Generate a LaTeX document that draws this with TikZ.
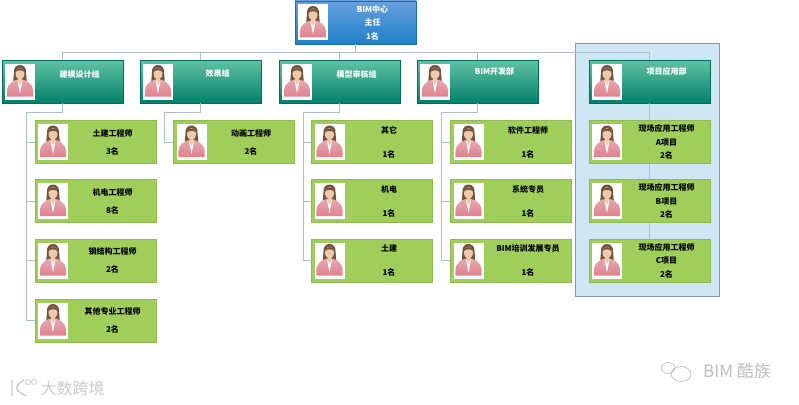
\documentclass[tikz,border=0pt]{standalone}
\usepackage{fontspec}
\setmainfont{Noto Sans CJK SC}
\definecolor{RootTop}{RGB}{104,160,222}
\definecolor{RootBot}{RGB}{30,128,200}
\definecolor{GroupTop}{RGB}{96,194,162}
\definecolor{GroupBot}{RGB}{3,128,108}
\definecolor{CardGreen}{RGB}{159,206,90}
\definecolor{LinkBlue}{RGB}{170,190,208}
\definecolor{PanelBlue}{RGB}{207,230,245}
\definecolor{HairBrown}{RGB}{112,84,62}
\definecolor{SkinTone}{RGB}{240,200,170}
\definecolor{CoatPink}{RGB}{222,130,142}
\definecolor{MarkGray}{RGB}{190,190,190}
\newcommand{\drawportrait}{
    \begin{scope}
        \pgftransformshift{\pgfpoint{-42.5pt}{0pt}}
        \fill[white] (-15,-18) rectangle (15,18);
        \fill[HairBrown] (-6,-9) .. controls (-7,-19) and (7,-19) .. (6,-9) -- (7,3) -- (3,2) -- (-3,2) -- (-7,3) -- cycle;
        \shade[top color=CoatPink!70!white, bottom color=CoatPink] (-13,15) .. controls (-14,5) and (-11,1) .. (-3,-2) -- (3,-2) .. controls (11,1) and (14,5) .. (13,15) -- cycle;
        \fill[white] (-2.5,-1) -- (2.5,-1) -- (0,12) -- cycle;
        \fill[SkinTone] (-2,-5) rectangle (2,-1) (-2,-1) -- (2,-1) -- (0,4) -- cycle;
        \fill[SkinTone] (0,-8) ellipse (4.5 and 6);
        \fill[HairBrown] (-5,-9) .. controls (-4,-15) and (4,-15) .. (5,-9) .. controls (3,-12) and (-3,-12) .. (-5,-9) -- cycle;
    \end{scope}
}
\begin{document}
\begin{tikzpicture}[
    x=1pt, y=-1pt,
    box/.style={rectangle, minimum width=121pt, minimum height=43pt, inner sep=0pt, path picture={\drawportrait}},
    rootbox/.style={box, draw=RootBot!85!black, top color=RootTop, bottom color=RootBot},
    groupbox/.style={box, draw=GroupBot!85!black, top color=GroupTop, bottom color=GroupBot},
    cardbox/.style={box, draw=CardGreen!90!black, fill=CardGreen},
    headtext/.style={xshift=17pt, yshift=7pt, font=\fontsize{8}{10}\selectfont\bfseries, text=white, align=center},
    cardtext/.style={xshift=17pt, font=\fontsize{8}{10}\selectfont\bfseries, align=center},
    link/.style={draw=LinkBlue, line width=0.9pt},
    marktext/.style={font=\fontsize{17}{19}\selectfont, text=MarkGray}
]
    \useasboundingbox (0,0) rectangle (799,404);
    \node[rectangle, draw=LinkBlue!80!black, fill=PanelBlue, minimum width=144pt, minimum height=253pt, inner sep=0pt] (panel) at (647,169.5) {};

    \node[rootbox, label={[cardtext, text=white]center:{BIM中心\\[3.5pt]主任\\[3.5pt]1名}}] (root) at (355.5,22.5) {};

    \node[groupbox, label={[headtext]center:建模设计组}] (g1) at (62.5,81.5) {};
    \node[groupbox, label={[headtext, yshift=1pt]center:效果组}] (g2) at (200.5,81.5) {};
    \node[groupbox, label={[headtext]center:模型审核组}] (g3) at (339.5,81.5) {};
    \node[groupbox, label={[headtext, yshift=3pt]center:BIM开发部}] (g4) at (477.5,81.5) {};
    \node[groupbox, label={[headtext, yshift=3pt]center:项目应用部}] (g5) at (649.5,81.5) {};

    \node[cardbox, label={[cardtext]center:{土建工程师\\[8pt]3名}}] (c11) at (95.5,142) {};
    \node[cardbox, label={[cardtext]center:{机电工程师\\[8pt]8名}}] (c12) at (95.5,201) {};
    \node[cardbox, label={[cardtext]center:{钢结构工程师\\[8pt]2名}}] (c13) at (95.5,260.5) {};
    \node[cardbox, label={[cardtext]center:{其他专业工程师\\[8pt]2名}}] (c14) at (95.5,320.5) {};

    \node[cardbox, label={[cardtext]center:{动画工程师\\[8pt]2名}}] (c21) at (234,142) {};

    \node[cardbox, label={[cardtext]center:{其它\\[14pt]1名}}] (c31) at (372,142) {};
    \node[cardbox, label={[cardtext]center:{机电\\[14pt]1名}}] (c32) at (372,201) {};
    \node[cardbox, label={[cardtext]center:{土建\\[14pt]1名}}] (c33) at (372,260.5) {};

    \node[cardbox, label={[cardtext]center:{软件工程师\\[14pt]1名}}] (c41) at (511,142) {};
    \node[cardbox, label={[cardtext]center:{系统专员\\[14pt]1名}}] (c42) at (511,201) {};
    \node[cardbox, label={[cardtext]center:{BIM培训发展专员\\[14pt]1名}}] (c43) at (511,260.5) {};

    \node[cardbox, label={[cardtext]center:{现场应用工程师\\[3.5pt]A项目\\[3.5pt]2名}}] (c51) at (649.5,142) {};
    \node[cardbox, label={[cardtext]center:{现场应用工程师\\[3.5pt]B项目\\[3.5pt]2名}}] (c52) at (649.5,201) {};
    \node[cardbox, label={[cardtext]center:{现场应用工程师\\[3.5pt]C项目\\[3.5pt]2名}}] (c53) at (649.5,260.5) {};

    \coordinate (t1) at (26,112);
    \coordinate (t2) at (164,112);
    \coordinate (t3) at (303,112);
    \coordinate (t4) at (441,112);
    \draw[link] (root.south) -- ++(0,8) -| (g1.north);
    \draw[link] (root.south) -- ++(0,8) -| (g2.north);
    \draw[link] (root.south) -- ++(0,8) -| (g3.north);
    \draw[link] (root.south) -- ++(0,8) -| (g4.north);
    \draw[link] (root.south) -- ++(0,8) -| (g5.north);
    \draw[link] (g1.south) |- (t1) |- (c11.west);
    \draw[link] (t1) |- (c12.west);
    \draw[link] (t1) |- (c13.west);
    \draw[link] (t1) |- (c14.west);
    \draw[link] (g2.south) |- (t2) |- (c21.west);
    \draw[link] (g3.south) |- (t3) |- (c31.west);
    \draw[link] (t3) |- (c32.west);
    \draw[link] (t3) |- (c33.west);
    \draw[link] (g4.south) |- (t4) |- (c41.west);
    \draw[link] (t4) |- (c42.west);
    \draw[link] (t4) |- (c43.west);
    \draw[link] (g5.south) -- (c51.north);
    \draw[link] (c51.south) -- (c52.north);
    \draw[link] (c52.south) -- (c53.north);

    \node[marktext] (brand) at (737,371) {BIM 酷族};
    \node[marktext, font=\fontsize{16}{18}\selectfont, text=MarkGray!80!white] (site) at (72.5,388) {大数跨境};
    % chat bubbles beside the brand
    \draw[MarkGray, line width=0.7pt] (668,368) ellipse (7 and 5.5) (681,374) ellipse (10 and 7.5);
    \draw[MarkGray!80!white, line width=1.4pt] (12,380) -- (12,396) (24,380) .. controls (14,386) and (14,390) .. (26,396);
    \draw[MarkGray!80!white, line width=0.8pt] (28,382) circle (2.5) (34,382) circle (2.5);
\end{tikzpicture}
\end{document}
